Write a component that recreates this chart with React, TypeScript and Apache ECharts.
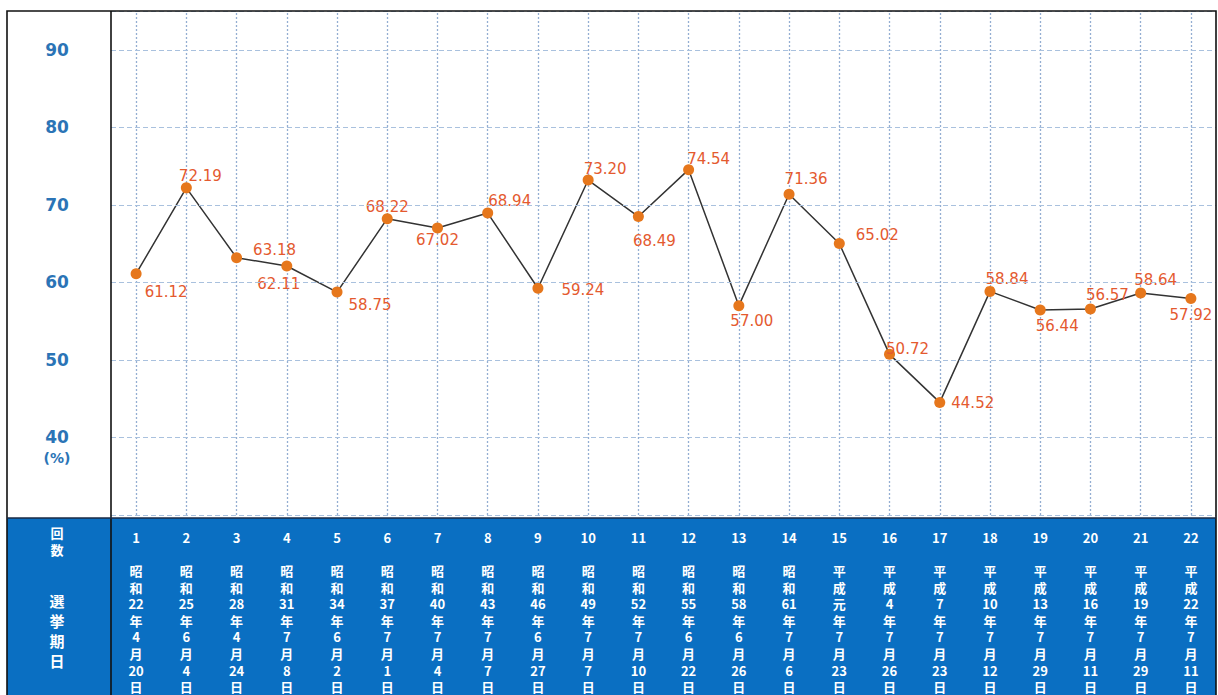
import React, { useEffect, useRef } from "react";
import * as echarts from "echarts";

const electionNumbers = ["1","2","3","4","5","6","7","8","9","10","11","12","13","14","15","16","17","18","19","20","21","22"];
const electionDates = [
  "昭和22年4月20日","昭和25年6月4日","昭和28年4月24日","昭和31年7月8日","昭和34年6月2日",
  "昭和37年7月1日","昭和40年7月4日","昭和43年7月7日","昭和46年6月27日","昭和49年7月7日",
  "昭和52年7月10日","昭和55年6月22日","昭和58年6月26日","昭和61年7月6日","平成元年7月23日",
  "平成4年7月26日","平成7年7月23日","平成10年7月12日","平成13年7月29日","平成16年7月11日",
  "平成19年7月29日","平成22年7月11日",
];
const turnout = [61.12,72.19,63.18,62.11,58.75,68.22,67.02,68.94,59.24,73.20,68.49,74.54,57.00,71.36,65.02,50.72,44.52,58.84,56.44,56.57,58.64,57.92];
const yMin = 30;
const yMax = 95;
const yInterval = 10;

// label offsets (style only): [dx, dy] from each point
const labelOffsets: number[][] = [
  [30,18],[14,-12],[38,-8],[-8,18],[33,13],[0,-12],[0,12],[22,-12],[45,2],[17,-11],
  [16,24],[20,-11],[13,15],[17,-15],[38,-8],[18,-5],[33,1],[17,-12],[17,16],[17,-14],
  [15,-13],[0,16],
];

function verticalDate(d: string): string {
  const m = d.match(/^(.)(.)(\d+|元)年(\d+)月(\d+)日$/);
  if (!m) return d;
  return [m[1], m[2], m[3], "年", m[4], "月", m[5], "日"].join("\n");
}

export default function App() {
  const ref = useRef<HTMLDivElement>(null);
  useEffect(() => {
    if (!ref.current) return;
    const chart = echarts.init(ref.current, undefined, { renderer: "svg" });
    const W = 1218, H = 695;
    const left = 111, top = 11, right = 1216, bandTop = 518;
    const option: any = {
      animation: false,
      backgroundColor: "#ffffff",
      grid: { left: left, right: W - right, top: top, bottom: H - bandTop, containLabel: false },
      xAxis: {
        type: "category",
        data: electionNumbers,
        boundaryGap: true,
        z: 10,
        axisLine: { show: false },
        axisTick: { show: false },
        splitLine: { show: false },
        axisLabel: {
          interval: 0,
          margin: 14,
          color: "#ffffff",
          fontFamily: "Noto Sans CJK JP",
          fontWeight: "bold",
          fontSize: 13,
          lineHeight: 16.6,
          formatter: (v: string, i: number) => v + "\n\n" + verticalDate(electionDates[i]),
        },
      },
      yAxis: {
        type: "value",
        min: yMin,
        max: yMax,
        interval: yInterval,
        z: 10,
        axisLine: { show: false },
        axisTick: { show: false },
        splitLine: { show: true, lineStyle: { color: "#a9c1de", type: [5, 3], width: 1 } },
        axisLabel: {
          margin: 54,
          align: "center",
          formatter: (v: number) => {
            if (v === yMin || v > 90) return "";
            if (v === 40) return "{e| }\n{a|" + v + "}\n{b|(%)}";
            return "{a|" + v + "}";
          },
          rich: {
            a: { color: "#2b74b6", fontFamily: "DejaVu Sans", fontWeight: "bold", fontSize: 17, lineHeight: 21, align: "center" },
            b: { color: "#2b74b6", fontFamily: "DejaVu Sans", fontWeight: "bold", fontSize: 14, lineHeight: 21, align: "center" },
            e: { fontSize: 14, lineHeight: 21 },
          },
        },
      },
      series: [
        {
          type: "line",
          data: turnout.map((v, i) => ({
            value: v,
            label: { offset: labelOffsets[i] },
          })),
          symbol: "circle",
          symbolSize: 11,
          z: 5,
          lineStyle: { color: "#333333", width: 1.5 },
          itemStyle: { color: "#e6771c", borderWidth: 0 },
          label: {
            show: true,
            position: "inside",
            color: "#e45a2f",
            fontFamily: "DejaVu Sans",
            fontSize: 15,
            formatter: (p: any) => Number(p.value).toFixed(2),
          },
          markLine: {
            silent: true,
            symbol: ["none", "none"],
            label: { show: false },
            lineStyle: { color: "#94aed2", type: [2, 2], width: 1.3 },
            data: electionNumbers.map((c) => ({ xAxis: c })),
            z: 1,
          },
        },
      ],
      graphic: [
        {
          type: "rect",
          z: -10,
          shape: { x: 7, y: bandTop, width: right - 7, height: H - bandTop },
          style: { fill: "#0a6fc2" },
        },
        {
          type: "rect",
          z: 100,
          shape: { x: 7, y: top, width: right - 7, height: H - top + 5 },
          style: { fill: "none", stroke: "#111111", lineWidth: 1.6 },
        },
        {
          type: "line",
          z: 100,
          shape: { x1: left, y1: top, x2: left, y2: H },
          style: { stroke: "#111111", lineWidth: 1.6 },
        },
        {
          type: "line",
          z: 100,
          shape: { x1: 7, y1: bandTop, x2: right, y2: bandTop },
          style: { stroke: "#1a2a44", lineWidth: 1.6 },
        },
        {
          type: "text",
          z: 100,
          x: 57,
          y: 524,
          style: {
            text: "回\n数",
            fill: "#ffffff",
            font: "bold 13px 'Noto Sans CJK JP'",
            lineHeight: 17,
            align: "center",
            verticalAlign: "top",
          },
        },
        {
          type: "text",
          z: 100,
          x: 57,
          y: 590,
          style: {
            text: "選\n挙\n期\n日",
            fill: "#ffffff",
            font: "bold 15px 'Noto Sans CJK JP'",
            lineHeight: 20,
            align: "center",
            verticalAlign: "top",
          },
        },
      ],
    };
    chart.setOption(option);
    return () => chart.dispose();
  }, []);
  return (
    <div
      ref={ref}
      style={{ position: "fixed", left: 0, top: 0, width: 1218, height: 695 }}
    />
  );
}
